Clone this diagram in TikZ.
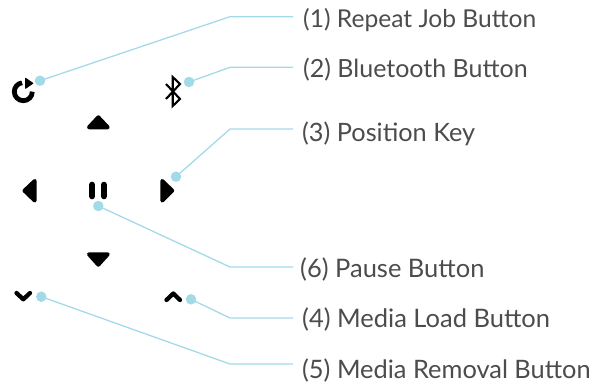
\documentclass[tikz,border=0pt]{standalone}
\usepackage{fontspec}
\setmainfont{Lato}
\definecolor{leader}{HTML}{A3DAE8}
\definecolor{labeltxt}{HTML}{4D4B4C}
\newcommand{\lblsize}[1]{\fontsize{#1}{27}\selectfont}
\tikzset{
  x=1pt,y=-1pt,
  spot/.style={circle,fill=leader,draw=none,minimum size=10.5pt,inner sep=0pt},
  leaderline/.style={draw=leader,line width=1.3pt},
  calllabel/.style={anchor=base west,inner sep=0pt,text=labeltxt},
  icon/.style={fill=black,draw=black,line width=4pt,line join=round},
  stroke/.style={draw=black,line width=4.3pt,line cap=round,line join=round},
}
\begin{document}
\begin{tikzpicture}
\useasboundingbox (0,0) rectangle (591,385);
% icons
\draw[draw=black,line width=4.8pt] (32.3,91.7) arc[start angle=0,end angle=-262,radius=9pt];
\draw[fill=black,draw=black,line width=1pt,line join=round] (25.5,78.3) -- (32.8,83.3) -- (25.5,88.3) -- cycle;
\draw[draw=black,line width=2.1pt,line join=miter] (166,84) -- (180,99) -- (172.7,106) -- (172.7,77) -- (180,84) -- (166,99);
\draw[icon] (98.3,117.3) -- (107.7,127.3) -- (89,127.3) -- cycle;
\draw[icon] (24.5,190.7) -- (34.7,181) -- (34.7,200.5) -- cycle;
\draw[icon] (172.2,190.7) -- (162.3,181) -- (162.3,200.5) -- cycle;
\draw[icon] (98.3,264.7) -- (107.7,254.3) -- (89,254.3) -- cycle;
\draw[line width=6pt,line cap=round] (92.3,184.7) -- (92.3,196.3);
\draw[line width=6pt,line cap=round] (104,184.7) -- (104,196.3);
\draw[stroke] (16.5,293) -- (23.3,299.3) -- (30,293);
\draw[stroke] (166.5,300) -- (173.3,293.5) -- (180,300);
% labels
\node[calllabel,font=\lblsize{24.6}] (l1) at (303,28) {(1) Repeat Job Button};
\node[calllabel,font=\lblsize{25}] (l2) at (303,78) {(2) Bluetooth Button};
\node[calllabel,font=\lblsize{25.3}] (l3) at (302,141) {(3) Position Key};
\node[calllabel,font=\lblsize{25.5}] (l6) at (300,277) {(6) Pause Button};
\node[calllabel,font=\lblsize{25.5}] (l4) at (302,327) {(4) Media Load Button};
\node[calllabel,font=\lblsize{25.4}] (l5) at (302,378) {(5) Media Removal Button};
% spots
\node[spot] (d1) at (40,80.7) {};
\node[spot] (d2) at (189,82) {};
\node[spot] (d3) at (176,176.7) {};
\node[spot] (d6) at (98.3,206) {};
\node[spot] (d4) at (191,299.3) {};
\node[spot] (d5) at (41.3,296.7) {};
% elbows and free ends
\coordinate (e1) at (230,16.7); \coordinate (f1) at (293,16.7);
\coordinate (e2) at (230,67.3); \coordinate (f2) at (293,67.3);
\coordinate (e3) at (230,129);  \coordinate (f3) at (293,129);
\coordinate (e6) at (230,267);  \coordinate (f6) at (293,267);
\coordinate (e4) at (230,318);  \coordinate (f4) at (293,318);
\coordinate (e5) at (230,364);  \coordinate (f5) at (293,364);
\foreach \n in {1,2,3,6,4,5}{
  \draw[leaderline] (d\n.center) -- (e\n) -- (f\n);
}
\end{tikzpicture}
\end{document}
